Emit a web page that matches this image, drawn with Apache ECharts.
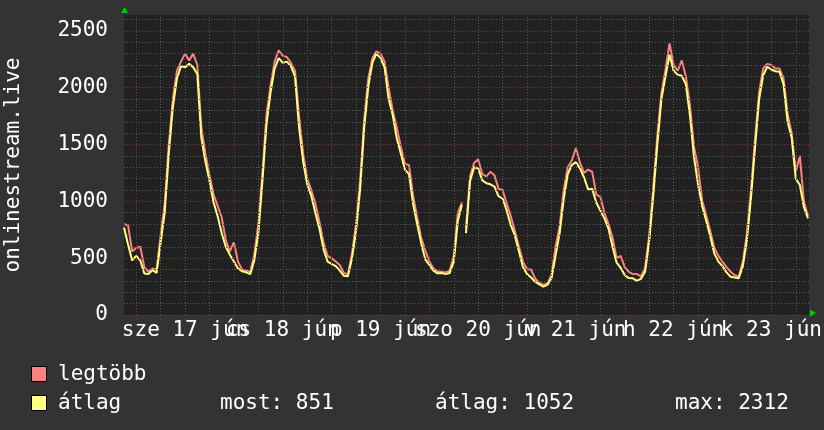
<!DOCTYPE html>
<html>
<head>
<meta charset="utf-8">
<script src="https://cdn.jsdelivr.net/npm/echarts@6/dist/echarts.min.js"></script>
<style>
html, body { margin: 0; padding: 0; background: #333333; }
#chart { width: 824px; height: 430px; }
</style>
</head>
<body>
<div id="chart"></div>
<script>
// hours counted from jún 17 00:00, first sample is jún 16 21:00, one per hour
const startHour = -3;
const endHour = 165.25;
const gapAfterHour = 80; // no data between 80 and 81

// átlag (average listeners)
const avgUsers = [
  770, 620, 480,
  520, 480, 365, 360, 395, 370, 640, 900, 1420, 1830, 2080, 2190,
  2180, 2210, 2180, 2120, 1560, 1350, 1180, 990, 870, 720, 600, 530,
  470, 410, 385, 375, 360, 480, 720, 1180, 1680, 1960, 2170, 2260,
  2220, 2230, 2190, 2100, 1650, 1350, 1150, 1050, 900, 760, 580, 470,
  450, 430, 390, 345, 340, 500, 740, 1110, 1650, 2010, 2220, 2300,
  2260, 2180, 1900, 1760, 1555, 1420, 1280, 1240, 980, 800, 630, 490,
  440, 390, 367, 370, 360, 370, 470, 830, 970, 720, 1180, 1300,
  1290, 1185, 1160, 1150, 1130, 1045, 1025, 920, 790, 700, 560, 420,
  360, 330, 293, 270, 250, 265, 323, 520, 720, 1020, 1240, 1320,
  1345, 1290, 1210, 1105, 1110, 990, 920, 850, 760, 600, 460, 415,
  350, 325, 323, 300, 320, 380, 650, 1050, 1500, 1900, 2100, 2290,
  2150, 2115, 2105, 2030, 1760, 1390, 1150, 960, 830, 690, 540, 470,
  430, 375, 337, 330, 323, 430, 660, 1030, 1480, 1900, 2110, 2185,
  2160, 2145, 2140, 2030, 1700, 1560, 1200, 1144, 950, 851
];

// legtöbb (max listeners)
const maxUsers = [
  800, 790, 560,
  590, 600, 420, 380, 410, 400, 700, 980, 1500, 1900, 2150, 2230,
  2300, 2240, 2300, 2200, 1650, 1420, 1230, 1060, 960, 860, 660, 560,
  640, 470, 400, 390, 380, 530, 800, 1250, 1760, 2020, 2230, 2330,
  2280, 2270, 2220, 2150, 1750, 1420, 1200, 1100, 980, 820, 640, 520,
  500, 470, 440, 370, 360, 540, 800, 1180, 1720, 2080, 2260, 2320,
  2300, 2230, 2000, 1800, 1650, 1480, 1330, 1320, 1050, 860, 680, 570,
  470, 410, 385, 380, 375, 390, 520, 900, 990, 760, 1220, 1340,
  1370, 1240, 1220, 1260, 1230, 1110, 1100, 980, 870, 740, 600, 470,
  400, 400, 320, 285, 265, 280, 350, 600, 780, 1100, 1300, 1360,
  1470, 1340, 1250, 1280, 1260, 1060, 1040, 900, 800, 680, 500, 520,
  420, 380, 360, 360, 340, 420, 700, 1120, 1580, 1950, 2160, 2390,
  2200, 2150, 2240, 2100, 1850, 1480, 1300, 1010, 880, 740, 590, 520,
  470, 420, 380, 350, 340, 470, 720, 1100, 1550, 1960, 2170, 2210,
  2200, 2170, 2170, 2080, 1770, 1600, 1260, 1400, 1000, 870
];

const dayLabelHours = [12, 36, 60, 84, 108, 132, 156];
const dayLabels = ['sze 17 jún', 'cs 18 jún', 'p 19 jún', 'szo 20 jún', 'v 21 jún', 'h 22 jún', 'k 23 jún'];
const yTicks = [0, 500, 1000, 1500, 2000, 2500];

const legendRows = [
  { name: 'legtöbb', color: '#ff8080' },
  { name: 'átlag', color: '#ffff80' }
];
const statTexts = ['most: 851', 'átlag: 1052', 'max: 2312'];

const FONT = 'DejaVu Sans Mono';
const MINOR = '#5a5a5a';
const MAJOR = '#7e3b3b';

function toPairs(values) {
  const out = [];
  values.forEach((v, i) => {
    const h = startHour + i;
    out.push([h, v]);
    if (h === gapAfterHour) out.push([h + 0.5, null]);
  });
  return out;
}

// grid lines (rrdtool style): minor every 6h / 100, major every day / 500
const minorLines = [];
const majorLines = [];
for (let h = 0; h <= 162; h += 6) {
  (h % 24 === 0 ? majorLines : minorLines).push({ xAxis: h });
}
for (let v = 0; v <= 2600; v += 100) {
  (v % 500 === 0 ? majorLines : minorLines).push({ yAxis: v });
}

function gridSeries(lines, color) {
  return {
    type: 'line',
    data: [],
    z: 1,
    silent: true,
    markLine: {
      silent: true,
      symbol: ['none', 'none'],
      label: { show: false },
      animation: false,
      lineStyle: { color: color, width: 1, type: [1, 2] },
      data: lines
    }
  };
}

// day labels overlap like in rrdtool, so split them over two axes
// (echarts would otherwise drop the overlapping ones)
function dayAxis(parity) {
  const hours = dayLabelHours.filter((h, i) => i % 2 === parity);
  return {
    type: 'value',
    min: startHour,
    max: endHour,
    position: 'bottom',
    axisLine: { show: false },
    axisTick: { show: false },
    splitLine: { show: false },
    axisLabel: {
      customValues: hours,
      formatter: v => dayLabels[dayLabelHours.indexOf(v)] || '',
      showMinLabel: true,
      showMaxLabel: true,
      color: '#fff',
      fontFamily: FONT,
      fontSize: 21,
      margin: 5
    }
  };
}

const chart = echarts.init(document.getElementById('chart'));

const legendGraphics = [];
legendRows.forEach((row, i) => {
  const y = 366 + i * 29;
  legendGraphics.push({
    type: 'rect', left: 31, top: y,
    shape: { width: 15, height: 15 },
    style: { fill: row.color, stroke: '#000', lineWidth: 1 }
  });
  legendGraphics.push({
    type: 'text', left: 58, top: y - 2,
    style: { text: row.name, fill: '#fff', font: '21px "' + FONT + '"' }
  });
});
[220, 435, 675].forEach((x, i) => {
  legendGraphics.push({
    type: 'text', left: x, top: 366 + 29 - 2,
    style: { text: statTexts[i], fill: '#fff', font: '21px "' + FONT + '"' }
  });
});
// axis arrows
legendGraphics.push({
  type: 'polygon',
  shape: { points: [[124.5, 7], [121, 13], [128, 13]] },
  style: { fill: '#00cc00' }
});
legendGraphics.push({
  type: 'polygon',
  shape: { points: [[816, 313], [810, 309.5], [810, 316.5]] },
  style: { fill: '#00cc00' }
});

chart.setOption({
  backgroundColor: '#333333',
  animation: false,
  grid: {
    left: 124, right: 15, top: 15, bottom: 115,
    containLabel: false,
    outerBoundsMode: 'none',
    show: true, backgroundColor: '#212121', borderWidth: 0
  },
  xAxis: [dayAxis(0), dayAxis(1)],
  yAxis: {
    type: 'value',
    min: 0,
    max: 2640,
    interval: 500,
    name: 'onlinestream.live',
    nameLocation: 'middle',
    nameRotate: 90,
    nameGap: 100,
    nameTextStyle: { color: '#fff', fontFamily: FONT, fontSize: 21 },
    axisLine: { show: false },
    axisTick: { show: false },
    splitLine: { show: false },
    axisLabel: {
      formatter: v => (yTicks.indexOf(v) >= 0 ? String(v) : ''),
      showMinLabel: true,
      color: '#fff',
      fontFamily: FONT,
      fontSize: 21,
      margin: 16
    }
  },
  graphic: legendGraphics,
  series: [
    gridSeries(minorLines, MINOR),
    gridSeries(majorLines, MAJOR),
    {
      name: 'legtöbb',
      type: 'line',
      z: 3,
      data: toPairs(maxUsers),
      showSymbol: false,
      connectNulls: false,
      lineStyle: { color: '#ff8080', width: 2 },
      itemStyle: { color: '#ff8080' }
    },
    {
      name: 'átlag',
      type: 'line',
      z: 4,
      data: toPairs(avgUsers),
      showSymbol: false,
      connectNulls: false,
      lineStyle: { color: '#ffff80', width: 2 },
      itemStyle: { color: '#ffff80' }
    }
  ]
});
</script>
</body>
</html>
